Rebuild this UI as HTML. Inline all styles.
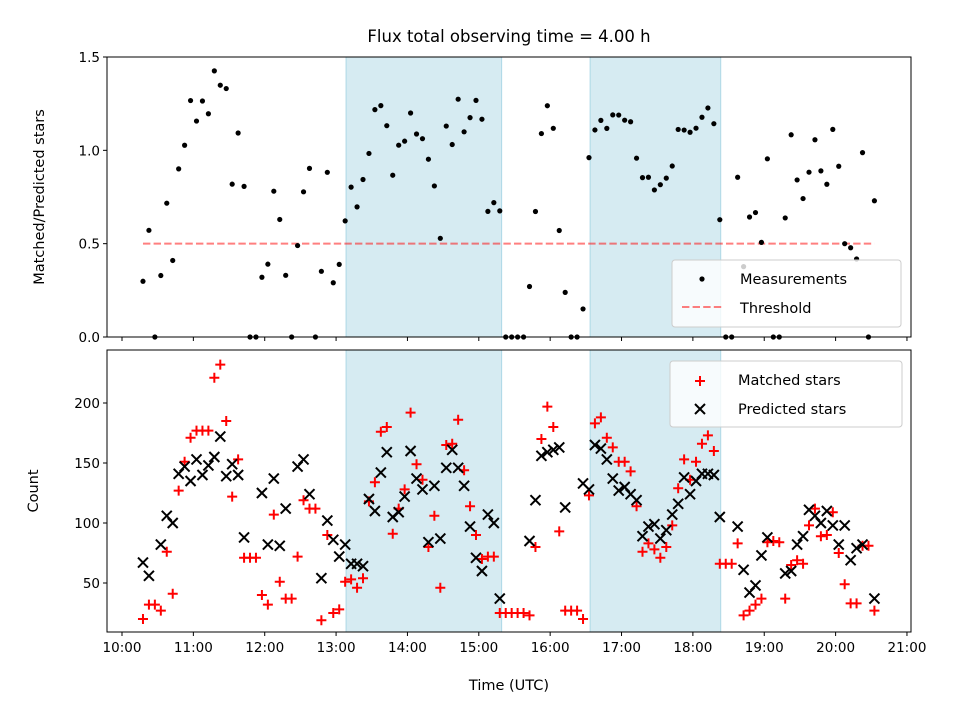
<!DOCTYPE html>
<html><head><meta charset="utf-8">
<style>
html,body{margin:0;padding:0;background:#fff;}
svg{display:block;font-family:"DejaVu Sans","Liberation Sans",sans-serif;}
</style></head>
<body>
<svg id="chart" width="960" height="720" viewBox="0 0 960 720" xmlns="http://www.w3.org/2000/svg">
<text x="509" y="42" font-size="16.5" text-anchor="middle">Flux total observing time = 4.00 h</text>
<g id="gtop"></g>
<g id="gbot"></g>
</svg>
<script>
// ---- data ----
const startHour = 10.294;
const stepHour = 5 / 60;
const matched = [20,32,32,27,76,41,127,151,171,177,177,177,221,232,185,122,153,71,71,71,40,32,107,51,37,37,72,119,112,112,19,90,25,28,51,53,46,54,118,134,176,180,91,112,128,192,149,136,80,106,46,165,166,186,144,114,90,70,72,72,25,25,25,25,25,23,80,170,197,180,93,27,27,27,20,123,183,188,171,163,151,151,143,114,76,83,78,71,80,98,129,153,136,151,166,173,160,66,66,66,83,23,27,32,37,84,85,84,37,65,69,66,98,112,89,90,109,75,49,33,33,81,81,27];
const predicted = [67,56,0,82,106,100,141,147,135,153,140,148,155,172,139,149,140,88,0,0,125,82,137,81,112,0,147,153,124,0,54,102,86,72,82,66,66,64,120,110,142,159,105,109,122,160,137,128,84,131,87,146,161,146,131,97,71,60,107,100,37,0,0,0,0,85,119,156,159,161,163,113,0,0,133,128,165,162,153,137,127,130,124,119,89,97,99,87,94,107,116,138,124,135,141,141,140,105,0,0,97,61,42,48,73,88,0,0,58,60,82,89,111,106,100,110,98,82,98,69,79,82,0,37];
const shadedSpans = [[13.14, 15.32], [16.56, 18.39]];
const threshold = 0.5;
const xTickLabels = ["10:00","11:00","12:00","13:00","14:00","15:00","16:00","17:00","18:00","19:00","20:00","21:00"];
const xTickHours = [10,11,12,13,14,15,16,17,18,19,20,21];
const ratioTicks = [0, 0.5, 1.0, 1.5];
const ratioTickLabels = ["0.0","0.5","1.0","1.5"];
const countTicks = [50, 100, 150, 200];

// ---- axes ----
const NS = "http://www.w3.org/2000/svg";
const L = 107, R = 911;
const T1 = 57, B1 = 337, T2 = 350, B2 = 632;
const xS = h => 122 + (h - 10) * 71.36;
const yR = v => B1 - (v / 1.5) * (B1 - T1);
const yC = v => 643 - v * 1.2;
function mk(parent, tag, attrs) {
  const e = document.createElementNS(NS, tag);
  for (const k in attrs) e.setAttribute(k, attrs[k]);
  parent.appendChild(e);
  return e;
}
const gTop = document.getElementById('gtop');
const gBot = document.getElementById('gbot');
const times = matched.map((_, i) => startHour + i * stepHour);
const ratio = matched.map((m, i) => predicted[i] > 0 ? m / predicted[i] : 0);

[[gTop, T1, B1], [gBot, T2, B2]].forEach(([g, t, b]) => {
  shadedSpans.forEach(s => {
    const r = mk(g, 'rect', {x: xS(s[0]), y: t, width: xS(s[1]) - xS(s[0]), height: b - t, fill: '#add8e6', 'fill-opacity': 0.5, stroke: '#add8e6', 'stroke-width': 1});
    
    
  });
});

const th = mk(gTop, 'line', {x1: xS(times[0]), x2: xS(times[times.length - 1]), y1: yR(threshold), y2: yR(threshold), stroke: '#ff0000', 'stroke-opacity': 0.5, 'stroke-width': 2, 'stroke-dasharray': '7.4,3.2'});



ratio.forEach((v, i) => {
  const c = mk(gTop, 'circle', {cx: xS(times[i]), cy: yR(v), r: 2.6, fill: '#000'});
  
  
});

function plus(x, y) {
  return mk(gBot, 'path', {d: `M${x-5},${y}H${x+5}M${x},${y-5}V${y+5}`, stroke: '#ff0000', 'stroke-width': 2, fill: 'none'});
}
function cross(x, y) {
  return mk(gBot, 'path', {d: `M${x-5},${y-5}L${x+5},${y+5}M${x-5},${y+5}L${x+5},${y-5}`, stroke: '#000', 'stroke-width': 2, fill: 'none'});
}
matched.forEach((v, i) => {
  const y = yC(v);
  if (y < T2 || y > B2) return;
  const p = plus(xS(times[i]), y);
  
  
});
predicted.forEach((v, i) => {
  const y = yC(v);
  if (y < T2 || y > B2) return;
  const p = cross(xS(times[i]), y);
  
  
});

[[gTop, T1, B1, 'ratio-axes-frame'], [gBot, T2, B2, 'count-axes-frame']].forEach(([g, t, b, n]) => {
  const r = mk(g, 'rect', {x: L, y: t, width: R - L, height: b - t, fill: 'none', stroke: '#000', 'stroke-width': 1});
  
  
});

xTickHours.forEach((h, i) => {
  const x = xS(h);
  mk(gTop, 'line', {x1: x, x2: x, y1: B1, y2: B1 + 4, stroke: '#000', 'stroke-width': 1});
  mk(gBot, 'line', {x1: x, x2: x, y1: B2, y2: B2 + 4, stroke: '#000', 'stroke-width': 1});
  const t = mk(gBot, 'text', {x: x, y: B2 + 20, 'font-size': 13.5, 'text-anchor': 'middle'});
  t.textContent = xTickLabels[i];
  
  
});
ratioTicks.forEach((v, i) => {
  const y = yR(v);
  mk(gTop, 'line', {x1: L - 4, x2: L, y1: y, y2: y, stroke: '#000', 'stroke-width': 1});
  const t = mk(gTop, 'text', {x: L - 7, y: y + 5, 'font-size': 13.5, 'text-anchor': 'end'});
  t.textContent = ratioTickLabels[i];
  
  
});
countTicks.forEach(v => {
  const y = yC(v);
  mk(gBot, 'line', {x1: L - 4, x2: L, y1: y, y2: y, stroke: '#000', 'stroke-width': 1});
  const t = mk(gBot, 'text', {x: L - 7, y: y + 5, 'font-size': 13.5, 'text-anchor': 'end'});
  t.textContent = String(v);
  
  
});

const svgEl = document.getElementById('chart');
svgEl.insertAdjacentHTML('beforeend', `
<text transform="translate(44,197) rotate(-90)" font-size="14.5" text-anchor="middle">Matched/Predicted stars</text>
<text transform="translate(38,491) rotate(-90)" font-size="14.5" text-anchor="middle">Count</text>
<text x="509" y="690" font-size="14.5" text-anchor="middle">Time (UTC)</text>
<g>
  <rect x="672" y="260" width="229" height="67" rx="3" fill="#fff" fill-opacity="0.8" stroke="#ccc" stroke-width="1"/>
  <circle cx="702" cy="279" r="2.6" fill="#000"/>
  <text x="740" y="284" font-size="14.5">Measurements</text>
  <line x1="682" x2="722" y1="307" y2="307" stroke="#ff0000" stroke-opacity="0.5" stroke-width="2" stroke-dasharray="7.4,3.2"/>
  <text x="740" y="313" font-size="14.5">Threshold</text>
</g>
<g>
  <rect x="670" y="361" width="232" height="66" rx="3" fill="#fff" fill-opacity="0.8" stroke="#ccc" stroke-width="1"/>
  <path d="M695,381H705M700,376V386" stroke="#ff0000" stroke-width="2"/>
  <text x="738" y="385" font-size="14.5">Matched stars</text>
  <path d="M695,404L705,414M695,414L705,404" stroke="#000" stroke-width="2"/>
  <text x="738" y="414" font-size="14.5">Predicted stars</text>
</g>`);
</script>
</body></html>
